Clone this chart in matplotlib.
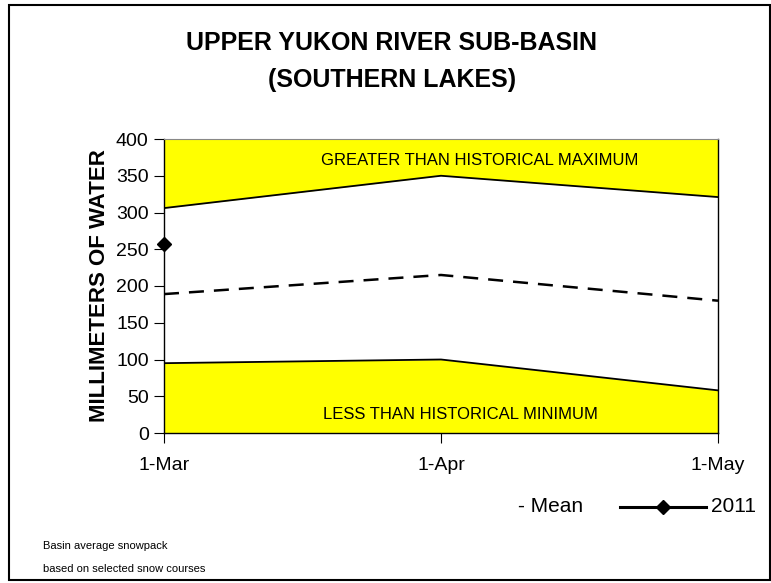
import matplotlib
matplotlib.use("Agg")
import matplotlib.pyplot as plt
from matplotlib.lines import Line2D
from matplotlib.patches import Rectangle

plt.rcParams['font.family'] = ['Liberation Sans', 'DejaVu Sans']

dates = ["1-Mar", "1-Apr", "1-May"]
hist_max = [306, 350, 321]
hist_min = [95, 100, 58]
mean = [189, 215, 180]
y2011 = [257]
yticks = [0, 50, 100, 150, 200, 250, 300, 350, 400]

W, H = 771, 583
fig = plt.figure(figsize=(W / 100, H / 100), dpi=100)
ax = fig.add_axes([164 / W, 1 - 433 / H, (718 - 164) / W, (433 - 139) / H])

x = list(range(len(dates)))
ax.fill_between(x, hist_max, 400, color="#FFFF00", linewidth=0)
ax.fill_between(x, 0, hist_min, color="#FFFF00", linewidth=0)
ax.plot(x, hist_max, color="black", lw=1.3)
ax.plot(x, hist_min, color="black", lw=1.3)
ax.plot(x, mean, color="black", lw=1.8, dashes=(6, 4))
ax.plot(x[:len(y2011)], y2011, color="black", lw=2.2, marker="D", ms=7, clip_on=False)

ax.set_xlim(0, 2)
ax.set_ylim(0, 400)
ax.set_yticks(yticks)
ax.set_xticks(x)
ax.set_xticklabels(dates, fontsize=14)
ax.tick_params(axis="y", labelsize=14, length=7, width=0.8, direction="out", pad=4)
ax.tick_params(axis="x", length=7, width=0.8, direction="out", pad=10)
ax.set_ylabel("MILLIMETERS OF WATER", fontsize=16, fontweight="bold", labelpad=4)
for s in ["left", "bottom", "right"]:
    ax.spines[s].set_color("black")
    ax.spines[s].set_linewidth(1.0)
ax.spines["top"].set_color("#888888")

ax.text(1.14, 371, "GREATER THAN HISTORICAL MAXIMUM", ha="center", va="center", fontsize=12)
ax.text(1.07, 25, "LESS THAN HISTORICAL MINIMUM", ha="center", va="center", fontsize=12)

fig.text(392 / W, 1 - 43 / H, "UPPER YUKON RIVER SUB-BASIN", ha="center", va="center",
         fontsize=18, fontweight="bold")
fig.text(392 / W, 1 - 80 / H, "(SOUTHERN LAKES)", ha="center", va="center",
         fontsize=18, fontweight="bold")

fig.text(43 / W, 1 - 546 / H, "Basin average snowpack", ha="left", va="center", fontsize=8)
fig.text(43 / W, 1 - 569 / H, "based on selected snow courses", ha="left", va="center", fontsize=8)

# legend
fig.text(583 / W, 1 - 507 / H, "- Mean", ha="right", va="center", fontsize=15)
fig.add_artist(Line2D([620 / W, 706 / W], [1 - 507 / H, 1 - 507 / H], color="black", lw=2.2))
fig.add_artist(Line2D([663 / W], [1 - 507 / H], color="black", marker="D", ms=7, lw=0))
fig.text(711 / W, 1 - 507 / H, "2011", ha="left", va="center", fontsize=15)

fig.add_artist(Rectangle((9 / W, 1 - 580 / H), (770 - 9) / W, (580 - 5) / H,
                         transform=fig.transFigure, fill=False, edgecolor="black", lw=1.5))

fig.savefig("out.png", dpi=100)
